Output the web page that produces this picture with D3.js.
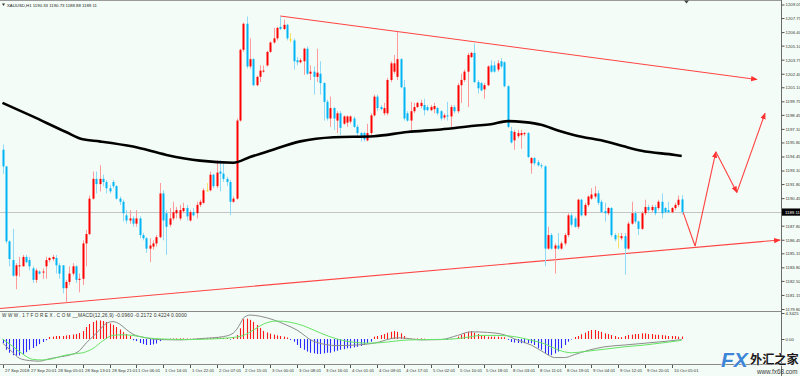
<!DOCTYPE html>
<html><head><meta charset="utf-8">
<script src="https://cdn.jsdelivr.net/npm/d3@7"></script>
<style>body{margin:0;background:#fff}svg{display:block}</style>
</head><body><svg id="c" width="800" height="376"></svg>
<script>
// ---------- DATA ----------
const opens=[1195.1,1193.5,1186.3,1184.5,1183.0,1183.9,1183.9,1184.8,1184.5,1183.7,1182.6,1183.4,1183.3,1183.9,1184.5,1184.6,1184.7,1184.0,1184.0,1181.8,1182.4,1183.2,1183.9,1182.6,1182.7,1186.1,1187.0,1190.4,1192.3,1191.8,1192.3,1192.0,1191.4,1192.0,1191.6,1190.4,1190.1,1188.8,1188.3,1188.5,1188.0,1188.5,1186.9,1186.6,1185.6,1185.8,1186.1,1186.7,1190.9,1189.0,1187.9,1188.5,1189.0,1188.5,1189.2,1189.5,1188.3,1189.1,1189.0,1189.8,1190.0,1191.2,1191.2,1192.7,1191.6,1193.0,1192.8,1192.3,1192.0,1190.1,1190.4,1197.9,1204.7,1207.2,1203.1,1203.8,1201.3,1202.1,1202.6,1203.2,1204.5,1205.4,1205.8,1206.9,1206.7,1207.1,1205.7,1205.6,1203.7,1203.5,1203.6,1204.8,1202.4,1202.6,1202.1,1202.4,1201.5,1199.7,1198.1,1199.1,1197.9,1198.6,1197.6,1197.7,1197.8,1198.1,1197.3,1196.7,1196.7,1196.0,1196.7,1198.4,1200.2,1199.2,1198.6,1198.6,1201.8,1202.6,1202.1,1203.8,1201.1,1198.6,1197.9,1198.8,1199.2,1199.3,1199.4,1199.2,1198.9,1199.0,1199.1,1198.8,1198.2,1198.4,1198.3,1199.2,1198.8,1201.3,1201.8,1202.6,1204.0,1204.4,1201.6,1201.5,1200.9,1201.3,1203.2,1203.2,1202.8,1203.6,1203.5,1201.2,1196.9,1196.0,1196.4,1196.5,1196.6,1196.7,1193.8,1194.3,1193.9,1193.6,1193.5,1185.6,1186.9,1185.6,1185.9,1185.6,1186.1,1186.9,1188.8,1188.5,1187.7,1190.3,1188.8,1189.8,1190.4,1190.6,1190.9,1190.1,1189.2,1189.0,1189.5,1186.9,1186.8,1186.6,1186.8,1185.6,1188.0,1189.0,1188.2,1187.5,1189.0,1189.6,1189.3,1189.6,1189.5,1190.1,1189.5,1189.3,1189.1,1189.5,1189.8,1190.33];
const highs=[1195.6,1193.5,1186.4,1187.5,1184.2,1184.8,1185.0,1185.0,1184.8,1183.9,1183.7,1183.5,1183.7,1184.8,1184.8,1185.0,1185.0,1184.2,1184.0,1182.6,1183.9,1184.2,1184.0,1183.2,1186.4,1187.4,1190.7,1193.0,1193.0,1193.6,1192.7,1192.2,1191.7,1192.2,1191.7,1190.6,1190.3,1189.3,1189.3,1188.7,1189.3,1188.7,1187.1,1186.7,1186.6,1186.4,1186.9,1191.9,1191.2,1189.3,1189.5,1190.1,1189.6,1189.8,1190.0,1189.8,1189.3,1189.5,1190.1,1190.3,1191.4,1191.9,1193.0,1192.8,1194.1,1194.1,1193.8,1192.5,1192.2,1190.6,1198.1,1204.8,1207.3,1207.9,1205.8,1203.9,1202.2,1203.2,1203.2,1204.6,1205.5,1206.8,1206.9,1207.9,1207.6,1207.2,1206.3,1205.8,1204.0,1203.9,1204.9,1205.0,1203.2,1203.1,1204.8,1203.6,1201.6,1199.9,1200.2,1199.2,1198.8,1198.8,1198.4,1198.4,1198.4,1198.3,1197.5,1196.8,1196.8,1197.6,1198.6,1200.4,1200.4,1199.4,1199.6,1202.0,1203.6,1204.2,1206.4,1203.9,1201.8,1198.8,1199.7,1199.6,1199.7,1199.9,1200.0,1199.4,1199.4,1199.6,1199.2,1198.9,1198.6,1199.7,1199.4,1199.4,1201.5,1202.4,1202.8,1204.4,1204.5,1205.3,1201.8,1201.6,1201.5,1203.2,1203.7,1203.6,1203.7,1203.9,1203.6,1201.3,1197.3,1197.0,1197.0,1197.0,1196.8,1196.8,1194.4,1194.4,1194.1,1193.8,1193.6,1187.7,1187.1,1186.1,1187.1,1186.3,1187.1,1189.0,1189.0,1188.7,1190.4,1190.4,1190.0,1190.7,1191.4,1191.6,1191.2,1190.3,1190.0,1189.6,1189.6,1187.1,1187.1,1187.1,1187.1,1188.2,1190.1,1189.2,1188.3,1189.2,1190.3,1189.8,1189.8,1189.8,1190.3,1190.9,1189.6,1190.1,1189.6,1190.0,1190.7,1190.73];
const lows=[1192.8,1186.1,1183.9,1182.9,1181.7,1182.9,1183.9,1184.2,1183.5,1182.3,1182.3,1183.1,1182.7,1182.7,1184.3,1184.4,1183.2,1182.7,1181.3,1180.4,1182.1,1183.0,1182.3,1181.4,1182.1,1183.9,1186.9,1190.3,1190.9,1191.1,1191.6,1190.9,1190.9,1191.4,1190.3,1189.8,1188.2,1188.0,1188.0,1187.7,1187.7,1186.6,1186.4,1185.2,1184.3,1185.5,1185.8,1186.6,1186.4,1185.0,1187.7,1188.3,1188.5,1188.3,1189.0,1188.3,1188.2,1188.7,1188.5,1189.6,1189.9,1191.1,1191.1,1191.4,1191.4,1191.1,1192.0,1191.6,1188.8,1190.0,1190.3,1197.8,1204.5,1202.9,1202.9,1201.2,1201.2,1201.6,1202.5,1203.1,1204.4,1205.3,1205.6,1206.6,1206.6,1205.6,1205.4,1202.8,1203.2,1203.4,1202.3,1202.3,1201.8,1200.4,1201.6,1200.4,1197.9,1197.9,1197.3,1197.0,1196.7,1196.5,1197.5,1197.3,1197.6,1197.2,1196.4,1195.9,1195.9,1195.9,1196.5,1198.3,1198.8,1198.9,1198.4,1198.4,1201.6,1202.4,1201.8,1201.0,1197.9,1197.8,1197.0,1198.6,1199.1,1199.1,1198.4,1198.8,1198.8,1198.6,1198.4,1197.9,1198.0,1197.9,1197.2,1198.6,1198.6,1199.6,1201.6,1199.2,1203.9,1201.5,1200.5,1200.7,1200.0,1201.2,1202.5,1202.5,1202.6,1202.9,1201.1,1197.2,1195.7,1195.1,1196.2,1195.2,1196.4,1194.3,1192.8,1193.6,1193.5,1193.3,1183.9,1185.5,1185.5,1183.2,1185.5,1185.5,1185.9,1186.7,1187.7,1187.6,1187.5,1188.7,1188.7,1189.6,1190.3,1190.4,1189.8,1189.0,1188.2,1188.8,1186.7,1186.3,1185.6,1186.4,1183.1,1185.5,1187.9,1188.0,1186.9,1187.4,1188.8,1189.0,1189.1,1188.8,1189.3,1188.5,1189.0,1189.0,1189.0,1189.3,1189.6,1188.88];
const closes=[1193.5,1186.3,1184.6,1183.0,1184.0,1184.0,1184.8,1184.3,1183.9,1182.6,1183.5,1183.2,1183.4,1184.5,1184.7,1184.8,1184.0,1183.2,1181.8,1182.4,1183.2,1183.9,1182.6,1182.7,1186.1,1187.0,1190.4,1192.3,1191.8,1192.3,1192.0,1191.4,1191.1,1191.6,1190.4,1190.1,1189.0,1188.3,1188.5,1188.0,1188.5,1186.9,1186.6,1185.6,1185.9,1186.1,1186.7,1190.9,1188.3,1187.7,1188.5,1189.1,1189.3,1189.3,1189.5,1188.7,1189.1,1188.8,1189.8,1190.1,1191.2,1191.2,1192.7,1191.6,1192.9,1192.8,1192.3,1192.0,1190.1,1190.4,1197.9,1204.7,1207.2,1203.1,1203.8,1201.3,1202.1,1202.7,1202.7,1204.5,1205.4,1205.8,1206.8,1206.7,1207.1,1205.8,1205.7,1203.6,1203.5,1203.7,1204.8,1202.4,1202.6,1202.1,1202.5,1201.5,1199.7,1198.1,1199.1,1198.1,1198.6,1197.2,1198.3,1198.3,1198.3,1197.3,1196.7,1196.3,1196.1,1196.7,1198.4,1200.2,1199.1,1199.0,1199.1,1201.8,1203.4,1203.4,1203.8,1201.1,1198.1,1197.9,1198.8,1199.2,1199.6,1199.6,1198.9,1198.9,1199.2,1199.3,1198.6,1198.1,1198.4,1198.3,1199.2,1198.8,1201.3,1201.8,1202.6,1204.2,1204.4,1201.6,1201.0,1200.8,1201.3,1203.1,1202.6,1202.6,1203.4,1203.1,1201.2,1197.3,1195.8,1196.8,1196.7,1196.7,1196.7,1194.4,1194.3,1193.8,1193.6,1193.5,1185.6,1186.9,1185.6,1185.9,1185.6,1186.1,1186.9,1188.8,1187.9,1187.7,1190.3,1188.8,1189.8,1190.6,1190.8,1190.9,1190.0,1189.1,1189.0,1189.5,1186.9,1186.5,1186.8,1186.8,1185.6,1188.0,1189.0,1188.2,1187.5,1189.0,1189.6,1189.3,1189.6,1189.0,1190.1,1189.0,1189.1,1189.1,1189.5,1189.8,1190.3,1189.11];

const priceTicks=[1209.05,1207.75,1206.40,1205.10,1203.75,1202.40,1201.10,1199.75,1198.45,1197.10,1195.80,1194.45,1193.10,1191.80,1190.45,1187.80,1186.45,1185.15,1183.80,1182.50,1181.15,1179.80];
const timeLabels=["27 Sep 2018","27 Sep 20:01","28 Sep 05:01","28 Sep 13:01","28 Sep 21:01","1 Oct 06:01","1 Oct 14:01","1 Oct 22:01","2 Oct 07:01","2 Oct 15:01","3 Oct 00:01","3 Oct 08:01","3 Oct 16:01","4 Oct 01:01","4 Oct 09:01","4 Oct 17:01","5 Oct 02:01","5 Oct 10:01","5 Oct 18:01","8 Oct 03:01","8 Oct 11:01","8 Oct 19:01","9 Oct 04:01","9 Oct 12:01","9 Oct 20:01","10 Oct 05:01"];

const maIdx=[0,9,19,24,29,39,49,59,69,74,79,89,99,111,121,131,141,146,151,156,161,166,171,181,186,191,201,203];
const maVal=[1199.6,1198.3,1196.8,1196.1,1195.9,1195.4,1194.6,1194.05,1193.85,1194.4,1194.9,1195.9,1196.3,1196.4,1196.8,1197.05,1197.4,1197.55,1197.85,1197.75,1197.5,1196.95,1196.5,1195.85,1195.4,1195.0,1194.6,1194.5];

const macdHist=[-0.67,-1.8,-2.3,-2.7,-2.8,-2.75,-2.5,-2.2,-1.8,-1.5,-1.2,-0.85,-0.5,-0.2,0.33,0.4,0.5,0.5,0.5,0.6,0.67,0.75,0.83,1.0,1.33,2.0,2.5,2.85,3.1,3.1,3.0,2.85,2.6,2.35,2.0,1.6,1.15,0.85,0.5,-0.2,-0.35,-0.67,-0.85,-1.0,-1.0,-0.9,-0.75,-0.35,-0.1,-0.05,0.05,0.08,0.1,0.1,0.1,0.08,0.05,0.05,0.08,0.1,0.12,0.15,0.2,0.2,0.25,0.25,0.2,0.15,-0.1,0.3,0.67,1.8,3.3,3.4,3.2,2.85,2.35,1.85,1.35,1.1,0.9,0.75,0.6,0.5,0.4,0.25,-0.17,-0.45,-1.0,-1.5,-1.8,-2.1,-2.3,-2.4,-2.5,-2.5,-2.4,-2.3,-2.3,-2.1,-1.95,-1.8,-1.7,-1.55,-1.55,-1.4,-1.3,-1.15,-1.0,-0.7,-0.45,0.4,0.5,0.67,0.83,1.05,1.2,1.33,1.2,0.95,0.5,0.1,0.05,0.05,0.08,0.1,0.05,-0.05,-0.05,-0.05,-0.08,-0.1,-0.1,-0.1,-0.05,0.05,0.4,0.67,0.95,1.2,1.33,1.05,0.83,0.67,0.5,0.4,0.4,0.4,0.4,0.3,0.3,-0.15,-0.5,-0.6,-0.67,-0.7,-0.7,-0.7,-0.7,-1.0,-1.55,-1.8,-2.4,-2.7,-2.7,-2.4,-2.1,-1.55,-1.0,-0.45,-0.1,0.33,0.5,0.8,1.05,1.33,1.5,1.5,1.33,1.2,0.95,0.83,0.67,0.5,0.3,0.3,0.5,0.67,0.72,0.83,0.83,0.95,0.95,0.83,0.83,0.72,0.72,0.67,0.6,0.5,0.5,0.5,0.4,0.42];
const macdMainIdx=[0,3,5,8,11,14,17,20,23,25,27,29,31,33,35,37,39,42,47,53,60,66,69,71,72,74,77,81,85,88,93,100,106,111,118,121,125,131,136,140,145,150,154,158,162,165,168,171,175,180,186,192,198,203];
const macdMainVal=[-0.67,-2.2,-3.2,-3.6,-3.7,-3.3,-3.0,-2.7,-1.95,-0.67,0.4,1.5,2.6,2.9,2.5,1.6,0.8,0.3,-0.1,-0.15,0.1,0.4,1.0,2.5,3.5,4.0,3.8,3.2,2.3,1.5,-0.4,-1.1,-1.0,-0.7,0.2,0.1,-0.15,-0.1,0.6,1.2,1.1,0.7,-0.2,-1.0,-2.3,-3.1,-3.1,-2.6,-1.9,-1.3,-1.0,-0.7,-0.4,-0.1];
const macdSigIdx=[0,3,6,9,12,15,18,21,24,27,30,33,36,39,43,48,55,62,68,72,75,78,82,86,90,95,100,106,110,115,120,126,133,138,143,148,153,158,162,166,170,174,180,186,192,198,203];
const macdSigVal=[0.0,-1.2,-2.5,-3.4,-3.5,-3.3,-2.8,-2.5,-2.3,-1.6,-0.3,0.6,0.7,0.6,0.2,0.0,-0.1,0.0,0.2,0.6,1.5,2.5,3.0,2.8,2.2,1.0,0.0,-0.6,-0.7,-0.5,-0.2,-0.1,-0.05,0.2,0.6,0.6,0.4,-0.2,-0.8,-1.8,-2.3,-2.1,-1.7,-1.3,-1.0,-0.6,-0.22];

const upperTrend=[[83,1207.95],[225.5,1201.85]];
const lowerTrend=[[-0.75,1179.85],[232.4,1186.43]];
const forecast=[[203.4,1189.1],[207,1185.85],[213.2,1194.9],[219.5,1191.0],[227.9,1198.6]];
const lastPrice=1189.11;
const macdTop=4.3425;
const headerText="XAUUSD,H1  1190.33 1190.73 1188.88 1189.11";
const macdSite="WWW.17FOREX.COM";
const macdText="__MACD(12,26,9) -0.0960 -0.2172 0.4224 0.0000";

// ---------- DRAW ----------
const W=800,H=376,AX=781;
const FONT="Liberation Sans, Arial, sans-serif";
const svg=d3.select("#c");
const BG="#f3fcf6";
svg.append("rect").attr("width",W).attr("height",H).attr("fill",BG);

const x=d3.scaleLinear().domain([0,203]).range([2.5,681.7]);
const y=d3.scaleLinear().domain([1179.80,1209.05]).range([309,4.5]);
const ym=d3.scaleLinear().domain([0,macdTop]).range([339,313]);

const defs=svg.append("defs");
defs.append("clipPath").attr("id","cm").append("rect").attr("x",0).attr("y",1).attr("width",AX).attr("height",310);
defs.append("clipPath").attr("id","cd").append("rect").attr("x",0).attr("y",312).attr("width",AX).attr("height",52);
defs.append("marker").attr("id","arr").attr("viewBox","0 0 10 10").attr("refX",9).attr("refY",5)
  .attr("markerWidth",6).attr("markerHeight",6).attr("orient","auto-start-reverse")
  .append("path").attr("d","M0,1L10,5L0,9z").attr("fill","#ff3030");

// frame lines
svg.append("line").attr("x1",0).attr("x2",AX).attr("y1",0.5).attr("y2",0.5).attr("stroke","#9a9a9a");
svg.append("line").attr("x1",0).attr("x2",AX).attr("y1",311.5).attr("y2",311.5).attr("stroke","#8a8a8a");
svg.append("line").attr("x1",0).attr("x2",AX).attr("y1",364.5).attr("y2",364.5).attr("stroke","#8a8a8a");
svg.append("line").attr("x1",AX+0.5).attr("x2",AX+0.5).attr("y1",0).attr("y2",H).attr("stroke","#6b6b6b");

const gm=svg.append("g").attr("clip-path","url(#cm)");
gm.append("line").attr("x1",0).attr("x2",AX).attr("y1",Math.round(y(lastPrice))+0.5).attr("y2",Math.round(y(lastPrice))+0.5).attr("stroke","#c4c4c4");

[upperTrend,lowerTrend].forEach(t=>{
  gm.append("line").attr("x1",x(t[0][0])).attr("y1",y(t[0][1])).attr("x2",x(t[1][0])).attr("y2",y(t[1][1]))
    .attr("stroke","#ff4444").attr("stroke-width",1.1).attr("marker-end","url(#arr)");
});
for(let k=0;k<forecast.length-1;k++){
  const a=forecast[k],b=forecast[k+1];
  gm.append("line").attr("x1",x(a[0])).attr("y1",y(a[1])).attr("x2",x(b[0])).attr("y2",y(b[1]))
    .attr("stroke","#ff4040").attr("stroke-width",1.1).attr("marker-end",k>0?"url(#arr)":null);
}

const idx=d3.range(opens.length);
const col=i=>closes[i]>opens[i]?"#ff0000":(closes[i]<opens[i]?"#00b4f5":"#f5d400");
const wcol=i=>closes[i]>opens[i]?"#ff9a9a":(closes[i]<opens[i]?"#8fdaf7":"#f5e06a");
gm.selectAll("line.w").data(idx).join("line").attr("class","w")
  .attr("x1",i=>Math.round(x(i))+0.5).attr("x2",i=>Math.round(x(i))+0.5)
  .attr("y1",i=>y(highs[i])).attr("y2",i=>y(lows[i])).attr("stroke",wcol).attr("stroke-width",1);
gm.selectAll("rect.b").data(idx).join("rect").attr("class","b")
  .attr("x",i=>Math.round(x(i))-0.5).attr("width",2)
  .attr("y",i=>y(Math.max(opens[i],closes[i])))
  .attr("height",i=>Math.max(1,Math.abs(y(opens[i])-y(closes[i]))))
  .attr("fill",col);

gm.append("path").datum(maIdx.map((d,k)=>[d,maVal[k]]))
  .attr("d",d3.line().x(d=>x(d[0])).y(d=>y(d[1])).curve(d3.curveMonotoneX))
  .attr("fill","none").attr("stroke","#000").attr("stroke-width",2.6);

// header
svg.append("path").attr("d","M2,3.5L5,3.5L3.5,6z").attr("fill","#333");
svg.append("text").attr("x",7).attr("y",6.5).text(headerText)
  .attr("font-family",FONT).attr("font-size",4.3).attr("fill","#222");
svg.append("path").attr("d","M684,0.5L689,0.5L686.5,3.5z").attr("fill","#444");

// price axis
const ya=svg.append("g").attr("transform",`translate(${AX+0.5},0)`)
  .call(d3.axisRight(y).tickValues(priceTicks).tickSize(3).tickFormat(d=>d.toFixed(2)));
ya.select(".domain").remove();
ya.selectAll("line").attr("stroke","#555");
ya.selectAll("text").attr("font-family",FONT).attr("font-size",4.3).attr("fill","#333").attr("x",4);
svg.append("rect").attr("x",AX+1).attr("y",y(lastPrice)-3.6).attr("width",18).attr("height",7.2).attr("fill","#000");
svg.append("text").attr("x",AX+4).attr("y",y(lastPrice)+1.5).text(lastPrice.toFixed(2))
  .attr("font-family",FONT).attr("font-size",4.3).attr("fill","#fff");

// MACD panel
const gd=svg.append("g").attr("clip-path","url(#cd)");
gd.selectAll("line.h").data(idx).join("line").attr("class","h")
  .attr("x1",i=>Math.round(x(i))+0.5).attr("x2",i=>Math.round(x(i))+0.5)
  .attr("y1",ym(0)).attr("y2",i=>ym(macdHist[i]))
  .attr("stroke",i=>macdHist[i]>=0?"#ff1a1a":"#2a2aff").attr("stroke-width",1.1);
gd.append("path").datum(macdMainIdx.map((d,k)=>[d,macdMainVal[k]]))
  .attr("d",d3.line().x(d=>x(d[0])).y(d=>ym(d[1])).curve(d3.curveMonotoneX))
  .attr("fill","none").attr("stroke","#8c8c8c").attr("stroke-width",1);
gd.append("path").datum(macdSigIdx.map((d,k)=>[d,macdSigVal[k]]))
  .attr("d",d3.line().x(d=>x(d[0])).y(d=>ym(d[1])).curve(d3.curveMonotoneX))
  .attr("fill","none").attr("stroke","#66e466").attr("stroke-width",1);
const mt=svg.append("text").attr("x",2).attr("y",317).attr("font-family",FONT).attr("fill","#333");
mt.append("tspan").text(macdSite).attr("font-size",4.6).attr("letter-spacing",1.55);
mt.append("tspan").text(macdText).attr("font-size",4.9).attr("letter-spacing",0.15);
const mA=svg.append("g").attr("transform",`translate(${AX+0.5},0)`)
  .call(d3.axisRight(ym).tickValues([macdTop,0]).tickSize(3).tickFormat((d,k)=>k===0?macdTop.toFixed(4):"0.00"));
mA.select(".domain").remove();
mA.selectAll("line").attr("stroke","#555");
mA.selectAll("text").attr("font-family",FONT).attr("font-size",4.3).attr("fill","#333").attr("x",4);

// time axis
const tg=svg.append("g");
timeLabels.forEach((t,k)=>{
  const xi=Math.round(x(k*8))+0.5;
  tg.append("line").attr("x1",xi).attr("x2",xi).attr("y1",365).attr("y2",368).attr("stroke","#555");
  tg.append("text").attr("x",xi+1.5).attr("y",371.5).text(t)
    .attr("font-family",FONT).attr("font-size",4.3).attr("fill","#333");
});

// watermark logo
const lg=svg.append("g");
lg.append("text").attr("x",721).attr("y",367).text("FX").attr("font-family",FONT)
  .attr("font-weight","bold").attr("font-style","italic").attr("font-size",21).attr("fill","#3d86d6")
  .attr("stroke","#ffffff").attr("stroke-width",0.8).attr("paint-order","stroke");
lg.append("text").attr("x",750).attr("y",364).text("外汇之家").attr("font-family","Noto Sans CJK SC")
  .attr("font-weight","bold").attr("font-size",12.2).attr("fill","#1a1a1a")
  .attr("stroke","#ffffff").attr("stroke-width",0.8).attr("paint-order","stroke");
lg.append("text").attr("x",757).attr("y",374).text("www.fx68.com").attr("font-family",FONT)
  .attr("font-size",6.3).attr("fill","#3a3a3a");
</script></body></html>
